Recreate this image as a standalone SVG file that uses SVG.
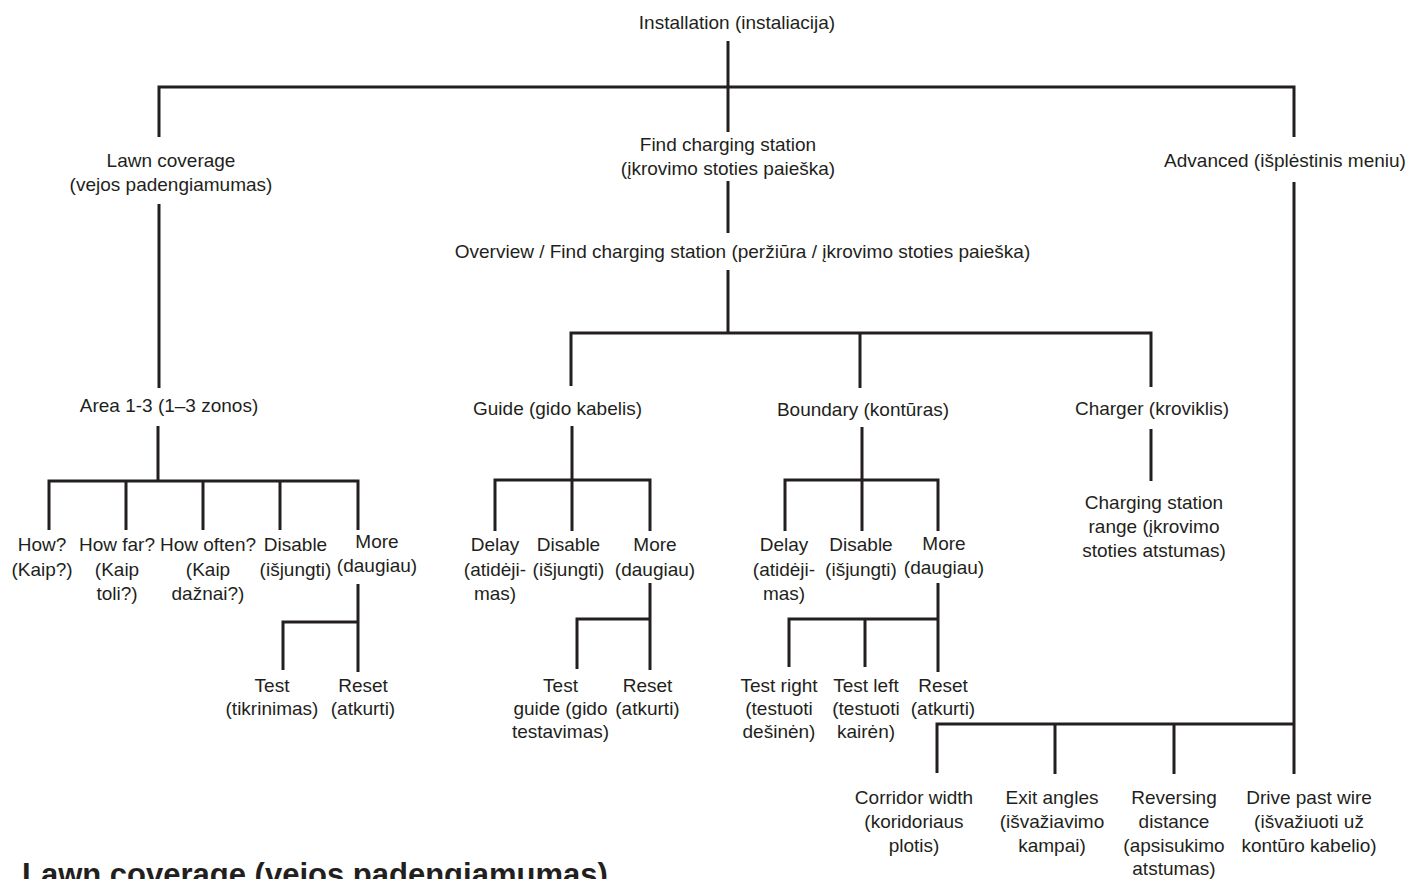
<svg xmlns="http://www.w3.org/2000/svg" width="1408" height="879" viewBox="0 0 1408 879">
<style>
text{font-family:"Liberation Sans",Arial,sans-serif;font-size:19px;fill:#231f20;text-anchor:middle}
.h{font-size:31px;font-weight:bold;text-anchor:start}
#connectors path{fill:none;stroke:#231f20;stroke-width:3;stroke-linecap:butt;stroke-linejoin:miter}
</style>
<rect width="1408" height="879" fill="#fff"/>
<g id="connectors">
<path d="M728 41V132"/>
<path d="M159 137V87H1294V137"/>
<path d="M159 204V388"/>
<path d="M728 181V233"/>
<path d="M728 270V333"/>
<path d="M571 386V333H1151V387M860 333V388"/>
<path d="M1151 429V481"/>
<path d="M1294 182V774"/>
<path d="M937 773V724H1294M1055 724V774M1174 724V774"/>
<path d="M158 426V481"/>
<path d="M49 530V481H358V530M126 481V530M203 481V530M280 481V530"/>
<path d="M358 584V672M283 670V622H358"/>
<path d="M572 426V480M495 531V480H650V531M572 480V531"/>
<path d="M650 583V670M577 669V619H650"/>
<path d="M862 427V480M785 531V480H938V531M862 480V531"/>
<path d="M938 583V672M789 667V619H938M865 619V667"/>
</g>
<g id="installation"><text x="737" y="29">Installation (instaliacija)</text></g>
<g id="lawn"><text x="171" y="167">Lawn coverage</text><text x="171" y="191">(vejos padengiamumas)</text></g>
<g id="find"><text x="728" y="151">Find charging station</text><text x="728" y="175">(įkrovimo stoties paieška)</text></g>
<g id="advanced"><text x="1285" y="167">Advanced (išplėstinis meniu)</text></g>
<g id="overview"><text x="742.5" y="258">Overview / Find charging station (peržiūra / įkrovimo stoties paieška)</text></g>
<g id="area"><text x="169" y="412">Area 1-3 (1–3 zonos)</text></g>
<g id="guide"><text x="557.5" y="415">Guide (gido kabelis)</text></g>
<g id="boundary"><text x="863" y="416">Boundary (kontūras)</text></g>
<g id="charger"><text x="1152" y="415">Charger (kroviklis)</text></g>
<g id="how"><text x="42" y="551">How?</text><text x="42" y="576">(Kaip?)</text></g>
<g id="howfar"><text x="117" y="551">How far?</text><text x="117" y="576">(Kaip</text><text x="117" y="600">toli?)</text></g>
<g id="howoften"><text x="208" y="551">How often?</text><text x="208" y="576">(Kaip</text><text x="208" y="600">dažnai?)</text></g>
<g id="lawn-disable"><text x="295.5" y="551">Disable</text><text x="295.5" y="576">(išjungti)</text></g>
<g id="lawn-more"><text x="377" y="548">More</text><text x="377" y="572">(daugiau)</text></g>
<g id="lawn-test"><text x="272" y="692">Test</text><text x="272" y="715">(tikrinimas)</text></g>
<g id="lawn-reset"><text x="363" y="692">Reset</text><text x="363" y="715">(atkurti)</text></g>
<g id="guide-delay"><text x="495" y="551">Delay</text><text x="495" y="576">(atidėji-</text><text x="495" y="600">mas)</text></g>
<g id="guide-disable"><text x="568.5" y="551">Disable</text><text x="568.5" y="576">(išjungti)</text></g>
<g id="guide-more"><text x="655" y="551">More</text><text x="655" y="576">(daugiau)</text></g>
<g id="guide-test"><text x="560.5" y="692">Test</text><text x="560.5" y="715">guide (gido</text><text x="560.5" y="738">testavimas)</text></g>
<g id="guide-reset"><text x="647.5" y="692">Reset</text><text x="647.5" y="715">(atkurti)</text></g>
<g id="boundary-delay"><text x="784" y="551">Delay</text><text x="784" y="576">(atidėji-</text><text x="784" y="600">mas)</text></g>
<g id="boundary-disable"><text x="861" y="551">Disable</text><text x="861" y="576">(išjungti)</text></g>
<g id="boundary-more"><text x="944" y="550">More</text><text x="944" y="574">(daugiau)</text></g>
<g id="test-right"><text x="779" y="692">Test right</text><text x="779" y="715">(testuoti</text><text x="779" y="738">dešinėn)</text></g>
<g id="test-left"><text x="866" y="692">Test left</text><text x="866" y="715">(testuoti</text><text x="866" y="738">kairėn)</text></g>
<g id="boundary-reset"><text x="943" y="692">Reset</text><text x="943" y="715">(atkurti)</text></g>
<g id="charging-range"><text x="1154" y="509">Charging station</text><text x="1154" y="533">range (įkrovimo</text><text x="1154" y="557">stoties atstumas)</text></g>
<g id="corridor"><text x="914" y="804">Corridor width</text><text x="914" y="828">(koridoriaus</text><text x="914" y="852">plotis)</text></g>
<g id="exit"><text x="1052" y="804">Exit angles</text><text x="1052" y="828">(išvažiavimo</text><text x="1052" y="852">kampai)</text></g>
<g id="reversing"><text x="1174" y="804">Reversing</text><text x="1174" y="828">distance</text><text x="1174" y="852">(apsisukimo</text><text x="1174" y="875">atstumas)</text></g>
<g id="drivepast"><text x="1309" y="804">Drive past wire</text><text x="1309" y="828">(išvažiuoti už</text><text x="1309" y="852">kontūro kabelio)</text></g>
<g id="heading"><text class="h" x="22" y="885">Lawn coverage (vejos padengiamumas)</text></g>
</svg>
